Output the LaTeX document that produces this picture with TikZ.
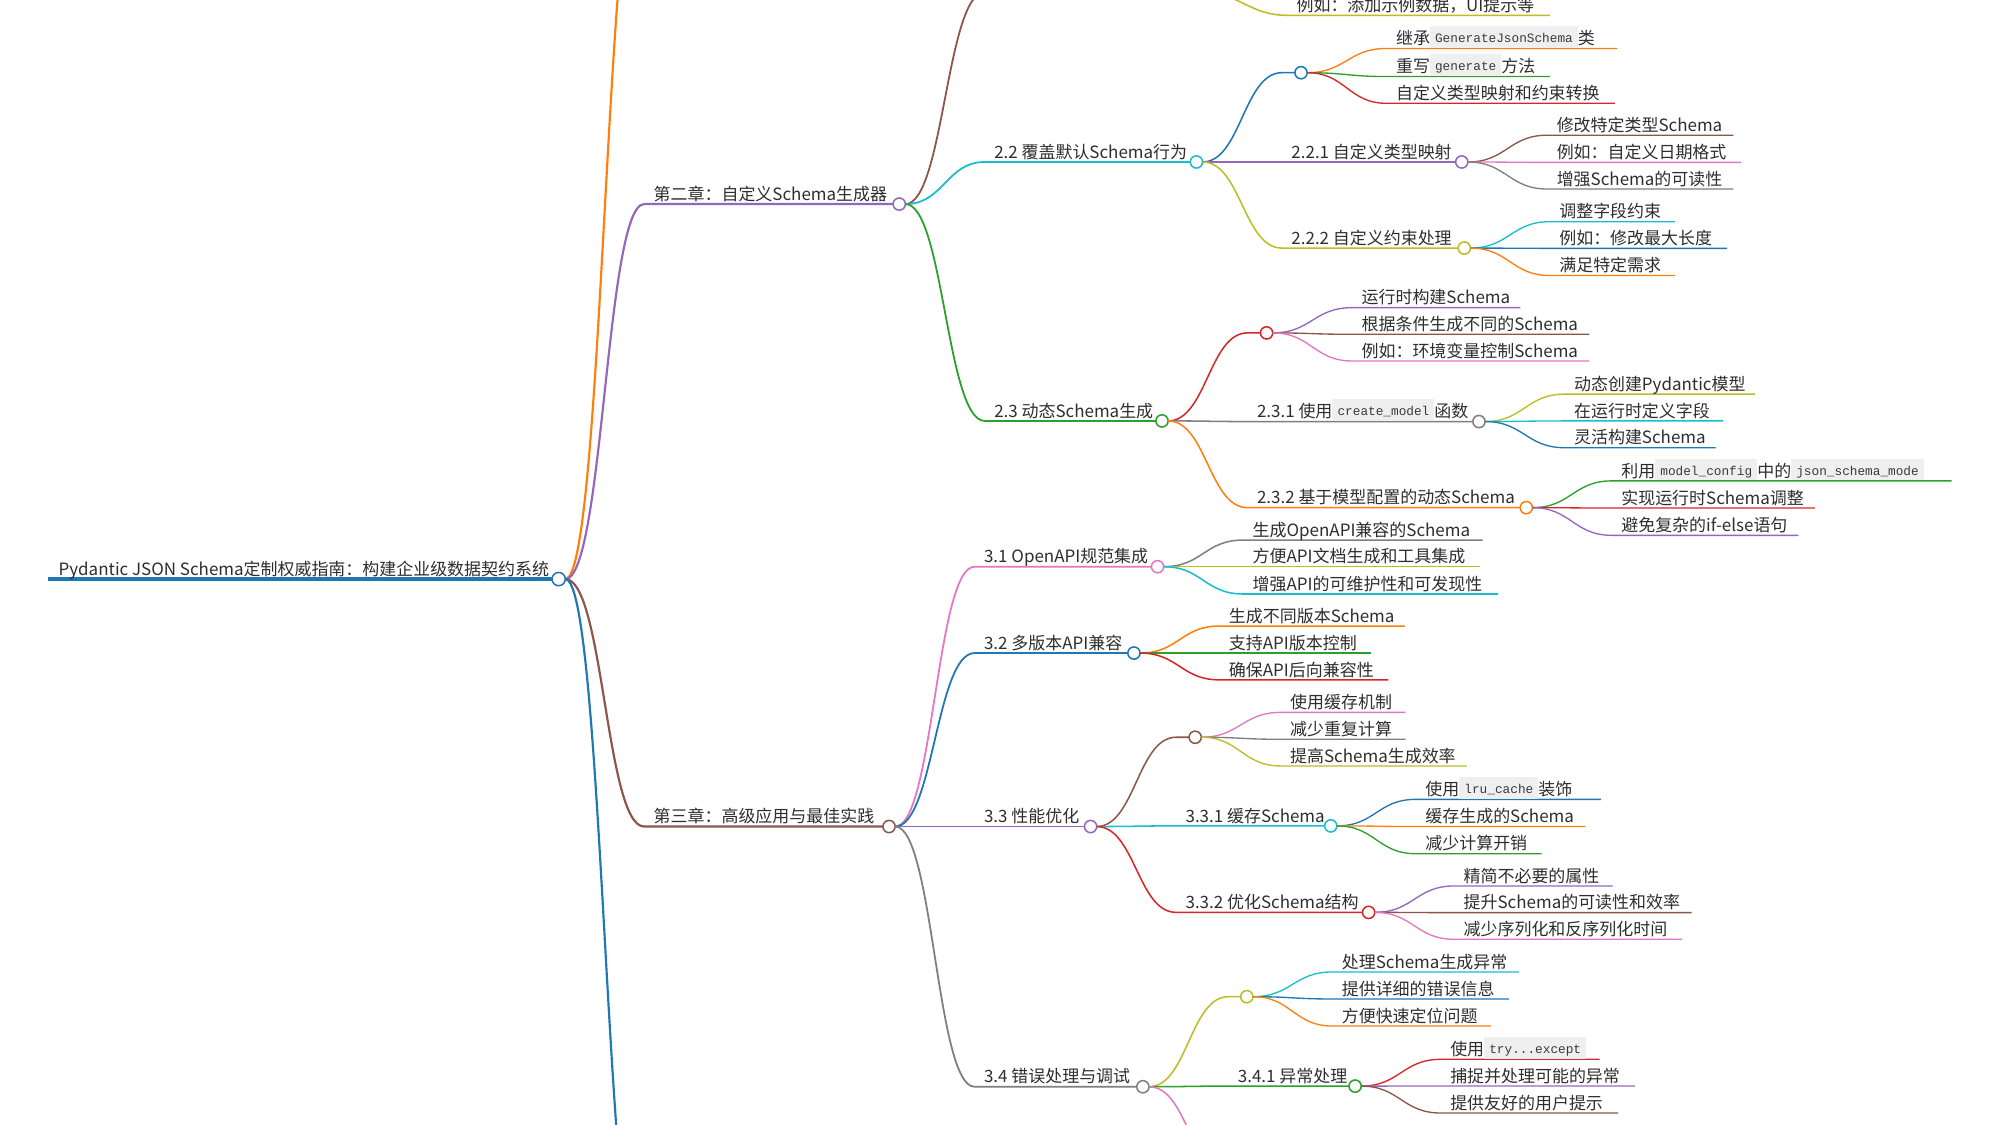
\documentclass[tikz,border=0pt]{standalone}
\usepackage{fontspec}
\setmainfont{Noto Sans CJK SC}
\newfontfamily\mmmono{Liberation Mono}
\definecolor{mblue}{HTML}{1F77B4}
\definecolor{morange}{HTML}{FF7F0E}
\definecolor{mgreen}{HTML}{2CA02C}
\definecolor{mred}{HTML}{D62728}
\definecolor{mpurple}{HTML}{9467BD}
\definecolor{mbrown}{HTML}{8C564B}
\definecolor{mpink}{HTML}{E377C2}
\definecolor{mgray}{HTML}{7F7F7F}
\definecolor{molive}{HTML}{BCBD22}
\definecolor{mcyan}{HTML}{17BECF}
\definecolor{codebg}{HTML}{EFEFEF}
\definecolor{codetx}{HTML}{3A3A3A}
\definecolor{txt}{HTML}{2E2E2E}
\newcommand{\mmcode}[1]{{\setlength{\fboxsep}{0pt}\colorbox{codebg}{\rule[-2.5pt]{0pt}{17pt}\hspace{4pt}\raisebox{1.5pt}{\textcolor{codetx}{\mmmono\fontsize{10}{12}\selectfont #1}}\hspace{4pt}}}}
\tikzset{
  lbl/.style={anchor=base west, inner sep=0pt, outer sep=0pt, text=txt, font=\fontsize{13.3}{16}\selectfont},
  dot/.style={circle, draw=#1, fill=white, line width=1.2pt, minimum size=9.6pt, inner sep=0pt, outer sep=0pt},
}
% id, parent anchor, colour, line width, line start x, y, circle x, text
\newcommand{\mmbranch}[8]{%
  \draw[#3, line width=#4] (#2) .. controls +(30,0) and +(-30,0) .. (#5,#6) coordinate (#1s) -- (#7,#6) node[dot=#3] (#1) {};
  \node[lbl] (#1t) at (#5+7.5,#6-3) {#8};
}
% id, parent anchor, colour, line width, line start x, y, line end x, text
\newcommand{\mmleaf}[8]{%
  \draw[#3, line width=#4] (#2) .. controls +(30,0) and +(-30,0) .. (#5,#6) coordinate (#1s) -- (#7,#6) coordinate (#1);
  \node[lbl] (#1t) at (#5+7.5,#6-3) {#8};
}
\begin{document}
\begin{tikzpicture}[x=1pt, y=-1pt]
\useasboundingbox (0,0) rectangle (1568,882);
\clip (0,0) rectangle (1568,882);
\fill[white] (0,0) rectangle (1568,882);

% root
\draw[mblue, line width=2.6pt] (38,454) coordinate (roots) -- (438,454) node[dot=mblue, minimum size=10.4pt] (root) {};
\node[lbl] (roott) at (46,451.5) {Pydantic JSON Schema定制权威指南：构建企业级数据契约系统};

% chapters
\draw[morange, line width=1.7pt] (root.east) .. controls +(30,0) and +(-30,0) .. (505,-125) coordinate (ch1s);
\mmbranch{ch2}{root.east}{mpurple}{1.7pt}{505}{160}{705}{第二章：自定义Schema生成器}
\mmbranch{ch3}{root.east}{mbrown}{1.7pt}{505}{648}{697}{第三章：高级应用与最佳实践}
\draw[mblue, line width=1.7pt] (root.east) .. controls +(30,0) and +(-30,0) .. (505,1017) coordinate (ch4s);

% chapter 2
\draw[mbrown, line width=1.4pt] (ch2.east) .. controls +(30,0) and +(-30,0) .. (772,-6) coordinate (n21s) -- (942,-6) coordinate (n21);
\mmleaf{a21}{n21}{molive}{1.2pt}{1009}{12}{1215}{例如：添加示例数据，UI提示等}
\mmbranch{n22}{ch2.east}{mcyan}{1.4pt}{772}{127}{938}{2.2 覆盖默认Schema行为}
\mmbranch{n23}{ch2.east}{mgreen}{1.4pt}{772}{330}{911}{2.3 动态Schema生成}

% 2.2
\mmbranch{u22}{n22.east}{mblue}{1.2pt}{1005}{57}{1020}{}
\mmleaf{u22a}{u22.east}{morange}{1.05pt}{1087}{38}{1268}{继承\mmcode{GenerateJsonSchema}类}
\mmleaf{u22b}{u22.east}{mgreen}{1.05pt}{1087}{60}{1215}{重写\mmcode{generate}方法}
\mmleaf{u22c}{u22.east}{mred}{1.05pt}{1087}{81}{1266}{自定义类型映射和约束转换}
\mmbranch{n221}{n22.east}{mpurple}{1.2pt}{1005}{127}{1146}{2.2.1 自定义类型映射}
\mmleaf{n221a}{n221.east}{mbrown}{1.05pt}{1213}{106}{1359}{修改特定类型Schema}
\mmleaf{n221b}{n221.east}{mpink}{1.05pt}{1213}{127.3}{1365}{例如：自定义日期格式}
\mmleaf{n221c}{n221.east}{mgray}{1.05pt}{1213}{148.2}{1359}{增强Schema的可读性}
\mmbranch{n222}{n22.east}{molive}{1.2pt}{1005}{194.5}{1148}{2.2.2 自定义约束处理}
\mmleaf{n222a}{n222.east}{mcyan}{1.05pt}{1215}{173.8}{1313}{调整字段约束}
\mmleaf{n222b}{n222.east}{mblue}{1.05pt}{1215}{194.7}{1354}{例如：修改最大长度}
\mmleaf{n222c}{n222.east}{morange}{1.05pt}{1215}{216}{1313}{满足特定需求}

% 2.3
\mmbranch{u23}{n23.east}{mred}{1.2pt}{978}{261}{993}{}
\mmleaf{u23a}{u23.east}{mpurple}{1.05pt}{1060}{241.2}{1192}{运行时构建Schema}
\mmleaf{u23b}{u23.east}{mbrown}{1.05pt}{1060}{262.1}{1246}{根据条件生成不同的Schema}
\mmleaf{u23c}{u23.east}{mpink}{1.05pt}{1060}{283}{1246}{例如：环境变量控制Schema}
\mmbranch{n231}{n23.east}{mgray}{1.2pt}{978}{330.5}{1159.5}{2.3.1 使用\mmcode{create\_model}函数}
\mmleaf{n231a}{n231.east}{molive}{1.05pt}{1226.6}{309}{1376}{动态创建Pydantic模型}
\mmleaf{n231b}{n231.east}{mcyan}{1.05pt}{1226.6}{330}{1351}{在运行时定义字段}
\mmleaf{n231c}{n231.east}{mblue}{1.05pt}{1226.6}{351}{1345}{灵活构建Schema}
\mmbranch{n232}{n23.east}{morange}{1.2pt}{978}{398}{1196.6}{2.3.2 基于模型配置的动态Schema}
\mmleaf{n232a}{n232.east}{mgreen}{1.05pt}{1263.6}{377}{1530}{利用\mmcode{model\_config}中的\mmcode{json\_schema\_mode}}
\mmleaf{n232b}{n232.east}{mred}{1.05pt}{1263.6}{398.3}{1423}{实现运行时Schema调整}
\mmleaf{n232c}{n232.east}{mpurple}{1.05pt}{1263.6}{419.7}{1410}{避免复杂的if-else语句}

% chapter 3
\mmbranch{n31}{ch3.east}{mpink}{1.4pt}{764}{444.3}{907.5}{3.1 OpenAPI规范集成}
\mmleaf{n31a}{n31.east}{mgray}{1.2pt}{974.6}{423.4}{1162.4}{生成OpenAPI兼容的Schema}
\mmleaf{n31b}{n31.east}{molive}{1.2pt}{974.6}{444.3}{1160.5}{方便API文档生成和工具集成}
\mmleaf{n31c}{n31.east}{mcyan}{1.2pt}{974.6}{465.7}{1174.5}{增强API的可维护性和可发现性}
\mmbranch{n32}{ch3.east}{mblue}{1.4pt}{764}{512}{889}{3.2 多版本API兼容}
\mmleaf{n32a}{n32.east}{morange}{1.2pt}{956}{490.8}{1101.5}{生成不同版本Schema}
\mmleaf{n32b}{n32.east}{mgreen}{1.2pt}{956}{512}{1075}{支持API版本控制}
\mmleaf{n32c}{n32.east}{mred}{1.2pt}{956}{533}{1088.5}{确保API后向兼容性}
\mmbranch{n33}{ch3.east}{mpurple}{1.4pt}{764}{648}{855}{3.3 性能优化}
\mmbranch{n34}{ch3.east}{mgray}{1.4pt}{764}{852}{896}{3.4 错误处理与调试}

% 3.3
\mmbranch{u33}{n33.east}{mbrown}{1.2pt}{922}{578}{937}{}
\mmleaf{u33a}{u33.east}{mpink}{1.05pt}{1004}{558.5}{1102}{使用缓存机制}
\mmleaf{u33b}{u33.east}{mgray}{1.05pt}{1004}{579.6}{1102}{减少重复计算}
\mmleaf{u33c}{u33.east}{molive}{1.05pt}{1004}{600.5}{1150}{提高Schema生成效率}
\mmbranch{n331}{n33.east}{mcyan}{1.2pt}{922}{647.5}{1043.3}{3.3.1 缓存Schema}
\mmleaf{n331a}{n331.east}{mblue}{1.05pt}{1110}{626.7}{1255}{使用\mmcode{lru\_cache}装饰}
\mmleaf{n331b}{n331.east}{morange}{1.05pt}{1110}{648}{1243}{缓存生成的Schema}
\mmleaf{n331c}{n331.east}{mgreen}{1.05pt}{1110}{669.3}{1208.6}{减少计算开销}
\mmbranch{n332}{n33.east}{mred}{1.2pt}{922}{715.3}{1073}{3.3.2 优化Schema结构}
\mmleaf{n332a}{n332.east}{mpurple}{1.05pt}{1140}{694.6}{1264.3}{精简不必要的属性}
\mmleaf{n332b}{n332.east}{mbrown}{1.05pt}{1140}{715.5}{1326.3}{提升Schema的可读性和效率}
\mmleaf{n332c}{n332.east}{mpink}{1.05pt}{1140}{736.4}{1318.7}{减少序列化和反序列化时间}

% 3.4
\mmbranch{u34}{n34.east}{molive}{1.2pt}{963}{781.4}{977.5}{}
\mmleaf{u34a}{u34.east}{mcyan}{1.05pt}{1044.5}{762}{1191}{处理Schema生成异常}
\mmleaf{u34b}{u34.east}{mblue}{1.05pt}{1044.5}{783.2}{1183}{提供详细的错误信息}
\mmleaf{u34c}{u34.east}{morange}{1.05pt}{1044.5}{804.4}{1169}{方便快速定位问题}
\mmbranch{n341}{n34.east}{mgreen}{1.2pt}{963}{851.5}{1062.4}{3.4.1 异常处理}
\mmleaf{n341a}{n341.east}{mred}{1.05pt}{1129.5}{830.5}{1254}{使用\mmcode{try...except}}
\mmleaf{n341b}{n341.east}{mpurple}{1.05pt}{1129.5}{851.4}{1281.7}{捕捉并处理可能的异常}
\mmleaf{n341c}{n341.east}{mbrown}{1.05pt}{1129.5}{872.6}{1268.5}{提供友好的用户提示}
\draw[mpink, line width=1.2pt] (n34.east) .. controls +(30,0) and +(-30,0) .. (963,920) coordinate (n342s);
\end{tikzpicture}
\end{document}
